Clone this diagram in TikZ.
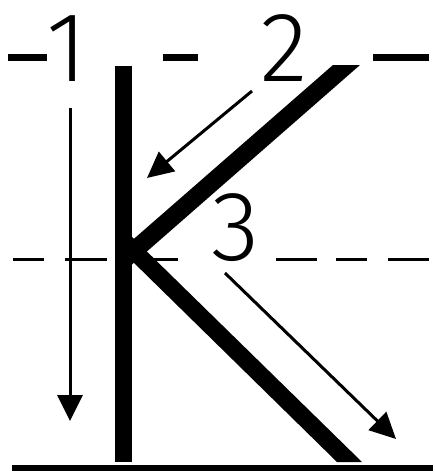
\documentclass[tikz,border=0pt]{standalone}
\usepackage{fontspec}
\usetikzlibrary{arrows.meta}
\IfFontExistsTF{Fira Sans Light}
  {\newfontfamily\digitfont{Fira Sans Light}}
  {\newfontfamily\digitfont{Liberation Sans}}
\tikzset{
  >={Triangle[length=26pt,width=25pt]},
  guide/.style={line width=#1,line cap=butt},
  guide/.default=3pt,
  letterstroke/.style={fill=black},
  order/.style={->,line width=3pt},
  num/.style={inner sep=0pt,font=\digitfont\fontsize{99}{99}\selectfont},
}

\begin{document}
\begin{tikzpicture}[x=1pt,y=-1pt]
  \useasboundingbox (0,0) rectangle (435,472);
  % writing lines
  \foreach \a/\b in {8/47,163/198,373/429} \draw[guide=7pt] (\a,57) -- (\b,57);
  \foreach \a/\b in {13/44,65/107,150/178,276/317,336/367,388/429} \draw[guide] (\a,259) -- (\b,259);
  \draw[guide=6pt] (12,468) -- (433,468);
  % the letter K
  \fill[letterstroke] (115,66) rectangle (132,462);
  \fill[letterstroke] (333,65) -- (360,65) -- (128,268) -- (128,244) -- cycle;
  \fill[letterstroke] (128,233) -- (362,462) -- (337,462) -- (128,257) -- cycle;
  % stroke order
  \node[num] (n1) at (67,49) {1};
  \node[num] (n2) at (284,48) {2};
  \node[num] (n3) at (236,228) {3};
  \coordinate (s1) at (70,108);
  \coordinate (e1) at (70,421);
  \coordinate (s2) at (252,91);
  \coordinate (e2) at (147,178);
  \coordinate (s3) at (225,273);
  \coordinate (e3) at (396,439);
  \draw[order] (s1) -- (e1);
  \draw[order] (s2) -- (e2);
  \draw[order] (s3) -- (e3);
\end{tikzpicture}
\end{document}
